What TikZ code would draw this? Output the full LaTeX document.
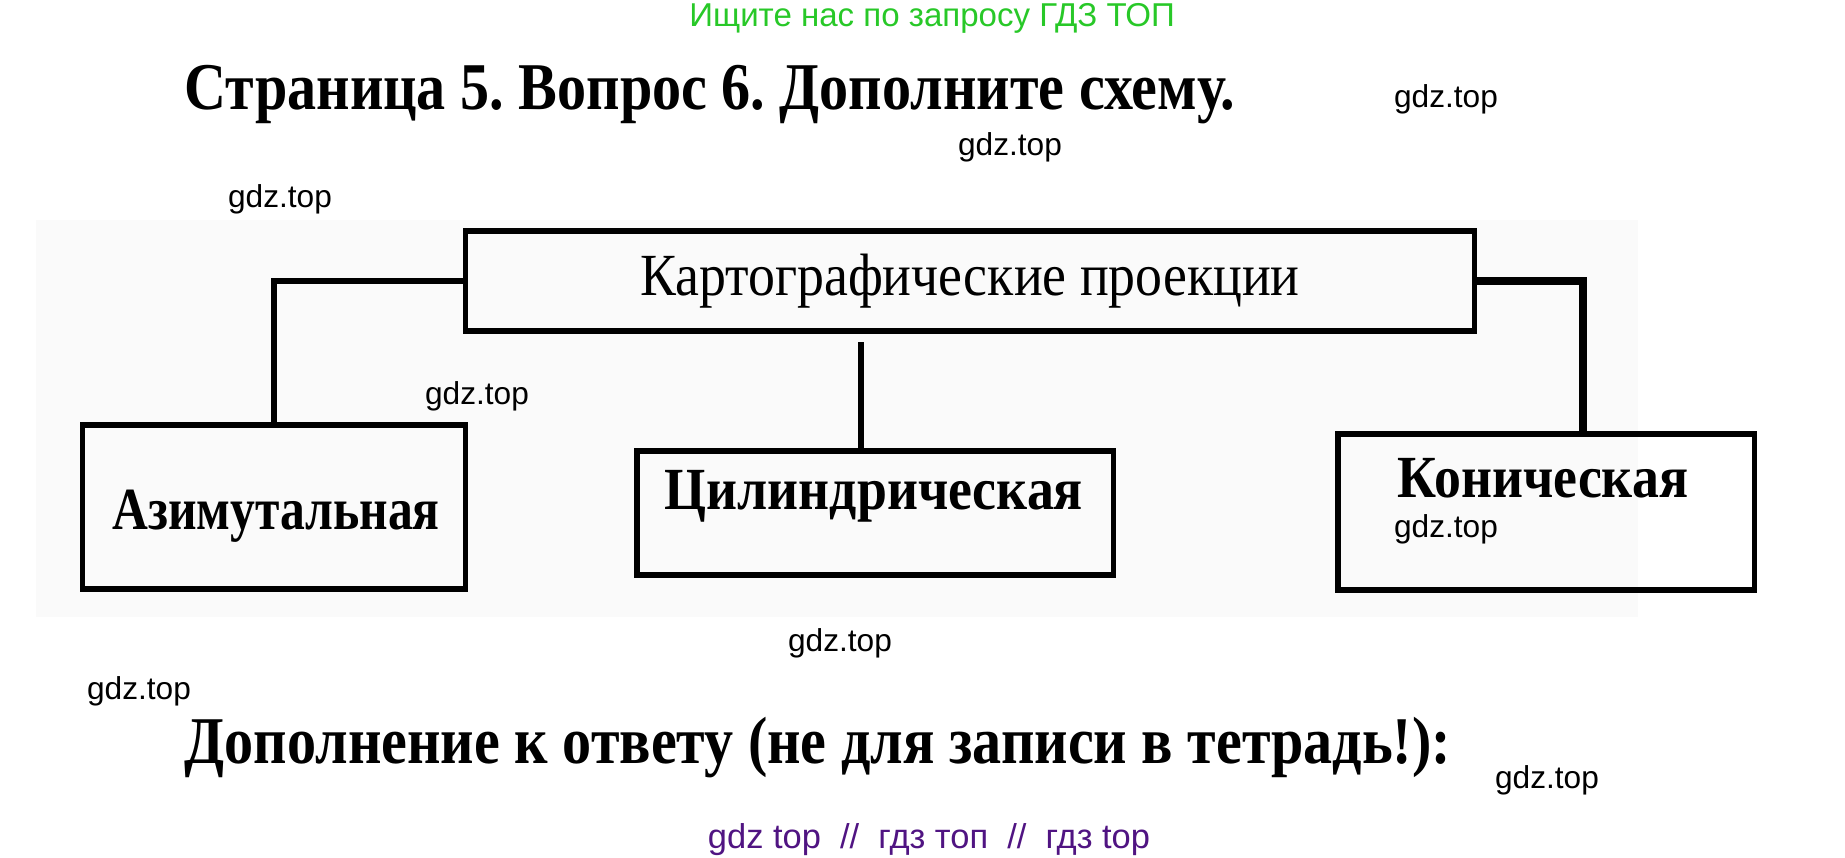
\documentclass[tikz,border=0pt]{standalone}
\usepackage{fontspec}
\setmainfont{Liberation Serif}
\newfontfamily\wmfont{Liberation Sans}
\usetikzlibrary{positioning}
\definecolor{wmgreen}{RGB}{40,200,40}
\definecolor{wmviolet}{RGB}{80,20,130}
\frenchspacing

\begin{document}
\begin{tikzpicture}[x=0.01cm,y=-0.01cm,
		projbox/.style={draw,line width=1.5pt,inner sep=0pt},
		boxtext/.style={font=\fontsize{17}{19}\selectfont\bfseries},
		wmark/.style={font=\wmfont\fontsize{9}{10}\selectfont},
		heading/.style={font=\fontsize{19}{22}\selectfont\bfseries,anchor=west,inner sep=0pt},
		link/.style={line width=1.8pt}]
		
		\useasboundingbox (0,0) rectangle (1845,857);
		\fill[black!2] (36,220) rectangle (1638,617);
		
		%rami
		\node[projbox,minimum width=10.09cm,minimum height=1cm] (kartproj) at (970,281) {};
		\node[projbox,minimum width=3.83cm,minimum height=1.64cm] (azim) at (274,507) {};
		\node[projbox,minimum width=4.76cm,minimum height=1.24cm] (cilind) at (875,513) {};
		\node[projbox,minimum width=4.16cm,minimum height=1.56cm] (konich) at (1546,512) {};
		
		%linee
		\coordinate (midtop) at (861,342);
		\draw[link] (kartproj.west) -| (azim.north);
		\draw[link] (midtop) -- (midtop |- cilind.north);
		\draw[line width=2.4pt] (kartproj.east) -| ([xshift=0.37cm]konich.north);
		
		%nomi
		\node[font=\fontsize{17}{19}\selectfont] (kartlab) at (970,281) {\scalebox{0.9}[1]{Картографические проекции}};
		\node[boxtext] (azimlab) at (276,516) {\scalebox{0.83}[1]{Азимутальная}};
		\node[boxtext] (cilindlab) at (874,496) {\scalebox{0.9}[1]{Цилиндрическая}};
		\node[boxtext] (konichlab) at (1543,478) {\scalebox{0.9}[1]{Коническая}};
		
		\node[text=wmgreen,font=\wmfont\fontsize{9.4}{11}\selectfont] (search) at (932,18) {Ищите нас по запросу ГДЗ ТОП};
		\node[heading] (title) at (184,95) {\scalebox{0.87}[1]{Страница 5. Вопрос 6. Дополните схему.}};
		\node[heading] (extra) at (184,748) {\scalebox{0.87}[1]{Дополнение к ответу (не для записи в тетрадь!):}};
		\node[text=wmviolet,font=\wmfont\fontsize{9.8}{12}\selectfont] (footer) at (929,840) {gdz top\ \ //\ \ гдз топ\ \ //\ \ гдз top};
		
		\node[wmark] (wm1) at (1446,99) {gdz.top};
		\node[wmark] (wm2) at (1010,147) {gdz.top};
		\node[wmark] (wm3) at (280,199) {gdz.top};
		\node[wmark] (wm4) at (477,396) {gdz.top};
		\node[wmark] (wm5) at (1446,529) {gdz.top};
		\node[wmark] (wm6) at (840,643) {gdz.top};
		\node[wmark] (wm7) at (139,691) {gdz.top};
		\node[wmark] (wm8) at (1547,780) {gdz.top};
		
	\end{tikzpicture}
\end{document}
